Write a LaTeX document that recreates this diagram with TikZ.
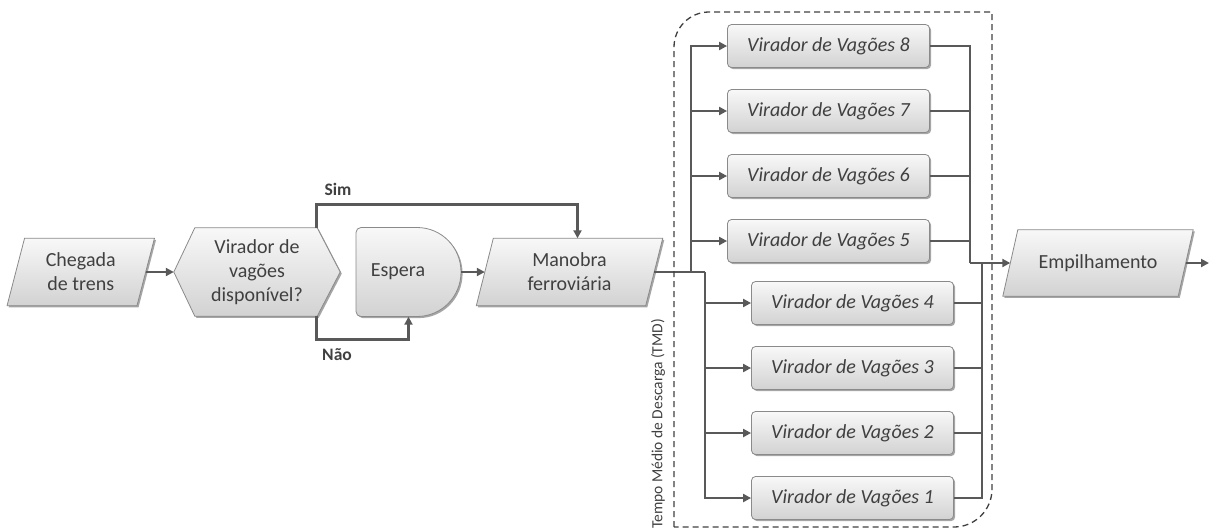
\documentclass[tikz,border=0pt]{standalone}
\usepackage{fontspec}
\setmainfont{Carlito}
\usetikzlibrary{arrows.meta,shadows}
\pgfdeclarelayer{background}
\pgfsetlayers{background,main}
\definecolor{linegray}{HTML}{595959}
\definecolor{textgray}{HTML}{404040}
\definecolor{edgegray}{HTML}{8A8A8A}
\definecolor{filltop}{HTML}{F8F8F8}
\definecolor{fillbot}{HTML}{D2D2D2}

\begin{document}
\begin{tikzpicture}[x=1pt,y=-1pt,
  txt/.style={text=textgray, font=\fontsize{20}{24}\selectfont, align=center, inner sep=0pt},
  holder/.style={txt, rectangle, minimum height=67pt},
  shapebody/.style={draw=edgegray, line width=0.8pt, top color=filltop, bottom color=fillbot,
    drop shadow={shadow xshift=1.6pt, shadow yshift=-1.6pt, opacity=0.35, fill=black}},
  vbox/.style={shapebody, rectangle, rounded corners=4pt, minimum width=202pt, minimum height=43pt,
    text=textgray, font=\fontsize{20}{24}\selectfont\itshape, inner sep=0pt},
  conn/.style={draw=linegray, line width=2.8pt},
  arr/.style={conn, -{Triangle[length=8pt,width=8pt]}},
  branchtag/.style={text=textgray, font=\fontsize{17.5}{20}\selectfont\bfseries, inner sep=0pt},
  dashbox/.style={draw=textgray, line width=1.3pt, dash pattern=on 6pt off 4pt}]
\useasboundingbox (0,0) rectangle (1209,531);

% main row: text holders for the custom outlines
\node[holder, minimum width=129.5pt] (chegada) at (80.75,272) {Chegada\\de trens};
\node[holder, minimum width=166pt, minimum height=88pt] (decisao) at (257,272) {Virador de\\vagões\\disponível?};
\node[rectangle, inner sep=0pt, minimum width=105pt, minimum height=89pt] (espera) at (408.5,272) {};
\node[txt] (esperatxt) at (398,272) {Espera};
\node[holder, minimum width=169pt] (manobra) at (569.5,272) {Manobra\\ferroviária};
\node[holder, minimum width=175pt, minimum height=66pt] (empilha) at (1098,263) {Empilhamento};

% outlines behind the texts
\begin{pgfonlayer}{background}
  \foreach \n/\s in {chegada/8.75, manobra/8.5, empilha/7.5}{
    \path[shapebody] ([xshift=\s pt]\n.north west) -- ([xshift=\s pt]\n.north east)
      -- ([xshift=-\s pt]\n.south east) -- ([xshift=-\s pt]\n.south west) -- cycle;
  }
  \path[shapebody] (decisao.west) -- ([xshift=21pt]decisao.north west)
    -- ([xshift=-23pt]decisao.north east) -- (decisao.east)
    -- ([xshift=-23pt]decisao.south east) -- ([xshift=21pt]decisao.south west) -- cycle;
  \path[shapebody] (417,227.5) .. controls (441.6,227.5) and (461,247.4) .. (461,272)
    .. controls (461,296.6) and (441.6,316.5) .. (417,316.5) -- (361,316.5)
    .. controls (358.2,316.5) and (356,314.3) .. (356,311.5) -- (356,232.5)
    .. controls (356,229.7) and (358.2,227.5) .. (361,227.5) -- cycle;
\end{pgfonlayer}

% unloading stations
\foreach \k/\y in {8/46, 7/111, 6/176, 5/241}{
  \node[vbox] (v\k) at (828.5,\y) {Virador de Vagões \k};
}
\foreach \k/\y in {4/303, 3/368, 2/433, 1/498}{
  \node[vbox] (v\k) at (852.5,\y) {Virador de Vagões \k};
}

% branch and merge points
\coordinate (splitA) at (691,272);
\coordinate (splitB) at (705,272);
\coordinate (mergeA) at (970,263);
\coordinate (mergeB) at (982,263);
\coordinate (outend) at (1209,263);

% connectors
\draw[arr] (chegada.east) -- (chegada.east -| decisao.west);
\draw[arr] ([xshift=-24pt]decisao.north east) -- ++(0,-23) -| ([xshift=8pt]manobra.north);
\draw[arr] ([xshift=-24pt]decisao.south east) -- ++(0,23) -| (espera.south);
\draw[arr] (espera.east) -- (espera.east -| manobra.west);
\draw[conn] (manobra.east) -- (splitB);
\foreach \k in {8,7,6,5}{
  \draw[arr] (splitA) |- (v\k.west);
  \draw[conn] (v\k.east) -| (mergeA);
}
\foreach \k in {4,3,2,1}{
  \draw[arr] (splitB) |- (v\k.west);
  \draw[conn] (v\k.east) -| (mergeB);
}
\draw[arr] (mergeA) -- (empilha.west);
\draw[arr] (empilha.east) -- (outend);

% branch labels
\node[branchtag] (sim) at (338,189) {Sim};
\node[branchtag] (nao) at (337,355) {Não};

% unloading time boundary
\draw[dashbox] (674,527) -- (674,47) .. controls (674,27.7) and (689.7,12) .. (709,12)
  -- (992,12) -- (992,489) .. controls (992,510) and (975,527) .. (954,527) -- cycle;
\node[text=textgray, font=\fontsize{15.5}{18}\selectfont, inner sep=0pt, rotate=90, anchor=west]
  (tmd) at (658,529) {Tempo Médio de Descarga (TMD)};
\end{tikzpicture}
\end{document}
